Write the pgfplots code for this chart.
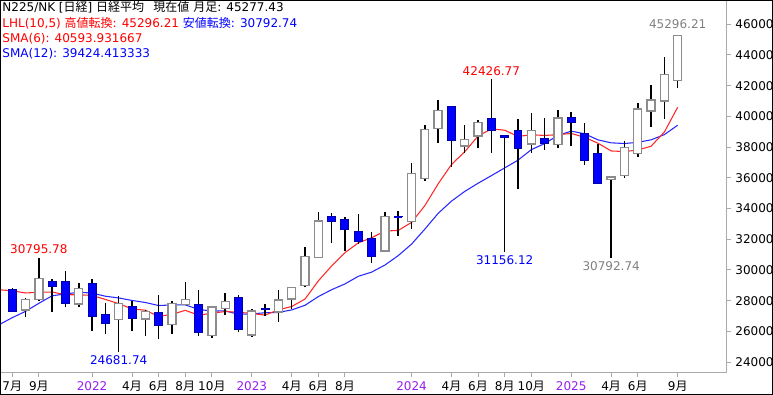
\documentclass[border=0pt]{standalone}
\usepackage{fontspec}
\setmainfont{DejaVu Sans}
\newfontfamily\jp{Noto Sans CJK JP}
\usepackage{pgfplots}
\pgfplotsset{compat=1.18}
\definecolor{bullgray}{RGB}{140,140,140}
\definecolor{bearfill}{RGB}{0,0,255}
\definecolor{bearedge}{RGB}{0,0,170}
\definecolor{smared}{RGB}{255,40,40}
\definecolor{smablue}{RGB}{40,40,255}
\definecolor{txtred}{RGB}{255,0,0}
\definecolor{txtblue}{RGB}{0,0,255}
\definecolor{txtgray}{RGB}{128,128,128}
\definecolor{yearpurple}{RGB}{150,30,240}
\definecolor{axgray}{RGB}{170,170,170}
\newcommand\M[1]{#1{\jp 月}}
\newcommand\Y[1]{\textcolor{yearpurple}{#1}}
\pgfplotsset{
  bullbody/.style={draw=bullgray, fill=white, line width=1pt},
  bearbody/.style={draw=bearedge, fill=bearfill, line width=0.75pt},
}
% #1 style, #2 x, #3 left edge, #4 right edge, #5 open, #6 high, #7 low, #8 close
\newcommand\candle[8]{%
  \addplot[black, line width=1.1pt] coordinates {(#2,#7)(#2,#6)};
  \addplot[#1] coordinates {(#3,#5)(#4,#5)(#4,#8)(#3,#8)} -- cycle;
}
\begin{document}
\begin{tikzpicture}
\begin{axis}[
  at={(0,0)}, anchor=north west,
  scale only axis, width=545pt, height=279.5pt,
  xmin=-0.92, xmax=53.68, ymin=23315, ymax=47575,
  axis line style={draw=axgray, line width=0.75pt},
  tick align=outside, major tick length=3pt,
  tick style={draw=axgray, line width=0.75pt},
  xtick pos=left, ytick pos=right, yticklabel pos=right,
  ticklabel style={font=\fontsize{9}{10}\selectfont, text=black},
  xtick={0,2,6,9,11,13,15,18,21,23,25,30,33,35,37,39,42,45,47,50},
  xticklabels={\M{7},\M{9},\Y{2022},\M{4},\M{6},\M{8},\M{10},\Y{2023},\M{4},\M{6},\M{8},\Y{2024},\M{4},\M{6},\M{8},\M{10},\Y{2025},\M{4},\M{6},\M{9}},
  ytick={24000,26000,28000,30000,32000,34000,36000,38000,40000,42000,44000,46000},
  yticklabels={24000,26000,28000,30000,32000,34000,36000,38000,40000,42000,44000,46000},
]
% SMA(12)
\addplot[smablue, line width=0.8pt] coordinates {
(-1,26430.19)(0,26894.65)(1,27307.13)(2,27829.43)(3,28322.39)(4,28438.07)(5,28550.37)(6,28495.25)(7,28291.98)(8,28178.87)(9,28015.14)(10,27883.45)(11,27683.58)(12,27726.75)(13,27726.91)(14,27433.96)(15,27325.19)(16,27337.46)(17,27112.69)(18,27139.79)(19,27216.35)(20,27234.69)(21,27402.06)(22,27702.74)(23,28269.07)(24,28716.62)(25,29093.94)(26,29587.30)(27,29859.92)(28,30319.74)(29,30933.88)(30,31680.52)(31,32657.24)(32,33684.57)(33,34480.33)(34,35113.67)(35,35646.51)(36,36140.64)(37,36643.01)(38,37148.17)(39,37833.37)(40,38226.80)(41,38762.66)(42,39036.48)(43,38868.92)(44,38472.93)(45,38276.24)(46,38232.67)(47,38308.03)(48,38472.03)(49,38811.26)(50,39424.41)};
% SMA(6)
\addplot[smared, line width=0.8pt] coordinates {
(-1,28712.07)(0,28648.77)(1,28502.70)(2,28548.34)(3,28561.68)(4,28388.63)(5,28388.66)(6,28341.72)(7,28081.27)(8,27809.40)(9,27468.60)(10,27378.27)(11,26978.50)(12,27111.77)(13,27372.56)(14,27058.52)(15,27181.78)(16,27296.65)(17,27246.89)(18,27167.80)(19,27060.14)(20,27410.85)(21,27622.35)(22,28108.83)(23,29291.25)(24,30265.44)(25,31127.73)(26,31763.76)(27,32097.49)(28,32530.66)(29,32576.52)(30,33095.60)(31,34186.74)(32,35605.38)(33,36863.18)(34,37696.68)(35,38716.50)(36,39185.68)(37,39099.28)(38,38690.96)(39,38803.56)(40,38756.91)(41,38808.82)(42,38887.27)(43,38638.56)(44,38254.90)(45,37748.92)(46,37708.43)(47,37807.24)(48,38056.79)(49,38983.95)(50,40593.93)};
% candles: style, x, left, right, open, high, low, close
\candle{bearbody}{0}{-0.3}{0.3}{28707}{28852}{27272}{27283.59}
\candle{bullbody}{1}{0.7}{1.3}{27390}{28190}{26954}{28089.54}
\candle{bullbody}{2}{1.7}{2.3}{28090}{30795.78}{28000}{29452.66}
\candle{bearbody}{3}{2.7}{3.3}{29235}{29420}{27293}{28892.69}
\candle{bearbody}{4}{3.7}{4.3}{29270}{29960}{27588}{27821.76}
\candle{bullbody}{5}{4.7}{5.3}{27787}{29121}{27594}{28791.71}
\candle{bearbody}{6}{5.7}{6.3}{29098}{29388}{26044}{27001.98}
\candle{bearbody}{7}{6.7}{7.3}{27123}{27880}{25800}{26526.82}
\candle{bullbody}{8}{7.7}{8.3}{26755}{28338}{24681.74}{27821.43}
\candle{bearbody}{9}{8.7}{9.3}{27600}{27950}{26000}{26847.90}
\candle{bullbody}{10}{9.7}{10.3}{26800}{27369}{25688}{27279.80}
\candle{bearbody}{11}{10.7}{11.3}{27252}{28389}{25520}{26393.04}
\candle{bullbody}{12}{11.7}{12.3}{26432}{27961}{25832}{27801.64}
\candle{bullbody}{13}{12.7}{13.3}{27768}{29222}{27700}{28091.53}
\candle{bearbody}{14}{13.7}{14.3}{27742}{28671}{25700}{25937.21}
\candle{bullbody}{15}{14.7}{15.3}{25740}{27600}{25600}{27587.46}
\candle{bullbody}{16}{15.7}{16.3}{27510}{28502}{27050}{27968.99}
\candle{bearbody}{17}{16.7}{17.3}{28226}{28370}{25950}{26094.50}
\candle{bullbody}{18}{17.7}{18.3}{25774}{27445}{25640}{27327.11}
\candle{bearbody}{19}{18.7}{19.3}{27460}{27780}{26980}{27445.56}
\candle{bullbody}{20}{19.7}{20.3}{27271}{28700}{26600}{28041.48}
\candle{bullbody}{21}{20.7}{21.3}{28110}{28900}{27445}{28856.44}
\candle{bullbody}{22}{21.7}{22.3}{28990}{31500}{28860}{30887.88}
\candle{bullbody}{23}{22.7}{23.3}{30820}{33772}{30800}{33189.04}
\candle{bearbody}{24}{23.7}{24.3}{33510}{33720}{31750}{33172.22}
\candle{bearbody}{25}{24.7}{25.3}{33300}{33430}{31250}{32619.34}
\candle{bearbody}{26}{25.7}{26.3}{32510}{33640}{31690}{31857.62}
\candle{bearbody}{27}{26.7}{27.3}{32070}{32460}{30460}{30858.85}
\candle{bullbody}{28}{27.7}{28.3}{31240}{33790}{31200}{33486.89}
\candle{bearbody}{29}{28.7}{29.3}{33480}{33850}{32200}{33464.17}
\candle{bullbody}{30}{29.7}{30.3}{33150}{36950}{32680}{36286.71}
\candle{bullbody}{31}{30.7}{31.3}{35970}{39426}{35800}{39166.19}
\candle{bullbody}{32}{31.7}{32.3}{39220}{41087}{38290}{40369.44}
\candle{bearbody}{33}{32.7}{33.3}{40670}{40697}{36680}{38405.66}
\candle{bullbody}{34}{33.7}{34.3}{38070}{39437}{37600}{38487.90}
\candle{bullbody}{35}{34.7}{35.3}{38720}{39760}{37920}{39583.08}
\candle{bearbody}{36}{35.7}{36.3}{39830}{42426.77}{37611}{39101.82}
\candle{bearbody}{37}{36.7}{37.3}{38760}{38770}{31156.12}{38647.75}
\candle{bearbody}{38}{37.7}{38.3}{39070}{39800}{35247}{37919.55}
\candle{bullbody}{39}{38.7}{39.3}{38200}{40240}{37640}{39081.25}
\candle{bearbody}{40}{39.7}{40.3}{38530}{39870}{37810}{38208.03}
\candle{bullbody}{41}{40.7}{41.3}{38180}{40410}{37960}{39894.54}
\candle{bearbody}{42}{41.7}{42.3}{39940}{40265}{38070}{39572.49}
\candle{bearbody}{43}{42.7}{43.3}{38900}{39550}{36835}{37155.50}
\candle{bearbody}{44}{43.7}{44.3}{37595}{38200}{35580}{35617.56}
\candle{bullbody}{45}{44.7}{45.3}{35900}{36080}{30792.74}{36045.38}
\candle{bullbody}{46}{45.7}{46.3}{36135}{38390}{36005}{37965.10}
\candle{bullbody}{47}{46.7}{47.3}{37595}{40850}{37340}{40487.39}
\candle{bullbody}{48}{47.7}{48.3}{40350}{42040}{39290}{41069.82}
\candle{bullbody}{49}{48.7}{49.3}{41000}{43880}{39830}{42718.47}
\candle{bullbody}{50}{49.7}{50.3}{42320}{45296.21}{41830}{45277.43}
% high / low annotations
\node[font=\fontsize{9}{10}\selectfont, inner sep=0pt, anchor=south, text=txtred, yshift=2.6pt] at (axis cs:2,30795.78) {30795.78};
\node[font=\fontsize{9}{10}\selectfont, inner sep=0pt, anchor=north, text=txtblue, yshift=-2.4pt] at (axis cs:8,24681.74) {24681.74};
\node[font=\fontsize{9}{10}\selectfont, inner sep=0pt, anchor=south, text=txtred, yshift=2.6pt] at (axis cs:36,42426.77) {42426.77};
\node[font=\fontsize{9}{10}\selectfont, inner sep=0pt, anchor=north, text=txtblue, yshift=-2.4pt] at (axis cs:37,31156.12) {31156.12};
\node[font=\fontsize{9}{10}\selectfont, inner sep=0pt, anchor=north, text=txtgray, yshift=-2.4pt] at (axis cs:45,30792.74) {30792.74};
\node[font=\fontsize{9}{10}\selectfont, inner sep=0pt, anchor=south, text=txtgray, yshift=4.2pt] at (axis cs:50,45296.21) {45296.21};
\end{axis}
% header text
\begin{scope}[every node/.style={font=\fontsize{9}{10}\selectfont, inner sep=0pt, anchor=base west}]
\node at (1.6pt,-8.3pt) {N225/NK [{\jp 日経}] {\jp 日経平均}\hspace{7pt}{\jp 現在値} {\jp 月足}: 45277.43};
\node at (1.6pt,-20.3pt) {\textcolor{txtred}{LHL(10,5) {\jp 高値転換}: 45296.21} \textcolor{txtblue}{{\jp 安値転換}: 30792.74}};
\node at (1.6pt,-31.6pt) {\textcolor{txtred}{SMA(6): 40593.931667}};
\node at (1.6pt,-42.8pt) {\textcolor{txtblue}{SMA(12): 39424.413333}};
\end{scope}
\draw[black, line width=0.75pt] (0.375pt,-0.375pt) rectangle (579.375pt,-295.875pt);
\pgfresetboundingbox
\path (0,0) rectangle (579.75pt,-296.25pt);
\end{tikzpicture}
\end{document}
